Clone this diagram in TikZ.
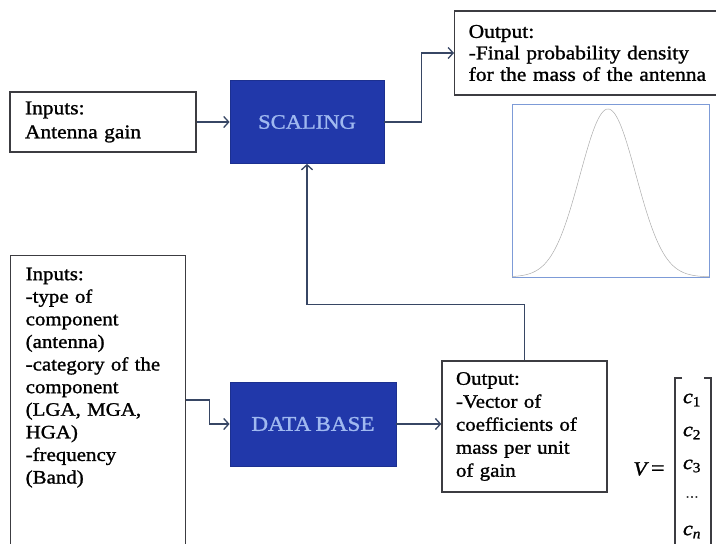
\documentclass[tikz,border=0pt]{standalone}
\usepackage{fontspec}
\setmainfont[FakeStretch=1.1,FakeBold=1.2,WordSpace=0.75]{Liberation Serif}
\usetikzlibrary{arrows.meta}
\definecolor{dbblue}{RGB}{33,56,170}
\definecolor{dbtext}{RGB}{160,185,240}
\definecolor{connc}{RGB}{55,70,100}
\definecolor{boxline}{RGB}{60,60,65}
\definecolor{plotline}{RGB}{125,155,215}
\begin{document}
\begin{tikzpicture}[x=1pt,y=-1pt,
  txtbox/.style={draw=boxline, line width=1.4pt, fill=white, align=left, inner xsep=14pt, inner ysep=0pt, font=\fontsize{19}{22.6}\selectfont},
  bluebox/.style={draw=dbblue!85!black, line width=0.8pt, fill=dbblue, text=dbtext, font=\fontsize{20.5}{24}\selectfont, inner sep=0pt},
  conn/.style={draw=connc, line width=1.3pt, -{Straight Barb[length=5pt,width=11pt]}},
  mathtxt/.style={font=\fontsize{20}{22}\selectfont\itshape, inner sep=0pt}
]
\useasboundingbox (0,0) rectangle (716,544);
% top row
\node[txtbox, minimum width=186pt, minimum height=60pt, text width=156pt, font=\fontsize{19.5}{24}\selectfont] (inA) at (103,122) {Inputs:\\Antenna gain};
\node[bluebox, minimum width=154pt, minimum height=83pt] (scal) at (307,122) {SCALING};
\node[txtbox, anchor=west, font=\fontsize{19.5}{21.5}\selectfont, minimum height=84pt, text width=260pt] (outA) at (454,53) {Output:\\-Final probability density\\for the mass of the antenna};
% probability density plot
\draw[plotline, line width=1pt] (512,104) rectangle (709,277);
\draw[gray!65, line width=0.5pt] plot[domain=512:709, samples=120, smooth] (\x, {277-168*exp(-((\x-608)^2)/1568)});
% bottom row
\node[txtbox, anchor=north west, inner xsep=15pt, minimum width=175pt, minimum height=293pt, text width=145pt] (inB) at (10,255)
  {\parbox[c][293pt][t]{145pt}{\vspace*{12pt}Inputs:\\-type of\\component\\(antenna)\\-category of the\\component\\(LGA, MGA,\\HGA)\\-frequency\\(Band)}};
\node[bluebox, minimum width=166pt, minimum height=84pt, font=\fontsize{21}{24}\selectfont] (db) at (313,424) {DATA BASE};
\node[txtbox, minimum width=165pt, minimum height=131pt, text width=137pt, font=\fontsize{19}{23}\selectfont] (outB) at (524.5,426.5) {Output:\\-Vector of\\coefficients of\\mass per unit\\of gain};
% connectors
\draw[conn] (inA.east) -- (scal.west);
\draw[conn] (scal.east) -- ++(37,0) |- (outA.west);
\draw[conn] ([yshift=-145pt]inB.north east) -- ++(23,0) |- (db.west);
\draw[conn] (db.east) -- (db.east -| outB.west);
\draw[conn] (outB.north) -- ++(0,-56) -| (scal.south);
% vector
\node[mathtxt] (V) at (649,469) {V \upshape\fontsize{22}{22}\selectfont=};
\draw[boxline, line width=1.2pt] (682,378) -- (675,378) -- (675,550);
\draw[boxline, line width=1.2pt] (704,378) -- (711,378) -- (711,550);
\node[mathtxt] (c1) at (692,400) {c\textsubscript{\upshape 1}};
\node[mathtxt] (c2) at (692,433) {c\textsubscript{\upshape 2}};
\node[mathtxt] (c3) at (692,466) {c\textsubscript{\upshape 3}};
\node[mathtxt] (cd) at (692,497) {\upshape\fontsize{12}{14}\selectfont\dots};
\node[mathtxt] (cn) at (692,532) {c\textsubscript{n}};
\end{tikzpicture}
\end{document}
